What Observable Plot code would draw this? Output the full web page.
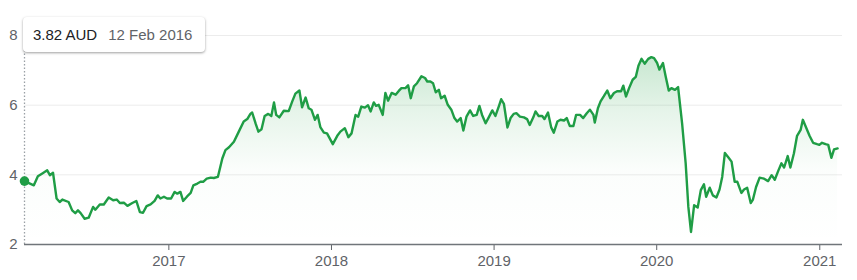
<!DOCTYPE html>
<html>
<head>
<meta charset="utf-8">
<script src="https://cdn.jsdelivr.net/npm/d3@7"></script>
<script src="https://cdn.jsdelivr.net/npm/@observablehq/plot@0.6"></script>
<style>
  html, body { margin: 0; padding: 0; background: #fff; }
  #wrap { position: relative; width: 857px; height: 280px; font-family: "Liberation Sans", Arial, sans-serif; }
  #tip {
    position: absolute; left: 23px; top: 17px; width: 182px; height: 35px;
    background: #fff; border-radius: 4px; box-sizing: border-box;
    box-shadow: 0 1px 3px rgba(0,0,0,0.28), 0 1px 2px rgba(0,0,0,0.12);
    display: flex; align-items: center; padding-left: 10px;
    font-size: 15px; white-space: nowrap;
  }
  #tip .v { color: #202124; }
  #tip .d { color: #5f6368; margin-left: 11px; }
</style>
</head>
<body>
<div id="wrap"><div id="tip"><span class="v"></span><span class="d"></span></div></div>
<script>
const currency = "AUD";
const dates = [
"2016-02-12","2016-03-04","2016-03-13","2016-03-23","2016-04-03","2016-04-09","2016-04-16","2016-04-24","2016-05-01","2016-05-07",
"2016-05-21","2016-05-29","2016-06-05","2016-06-11","2016-06-17","2016-06-26","2016-07-05","2016-07-15","2016-07-20","2016-07-30",
"2016-08-08","2016-08-19","2016-08-29","2016-09-06","2016-09-13","2016-09-22","2016-09-30","2016-10-11","2016-10-20","2016-10-28",
"2016-11-04","2016-11-12","2016-11-21","2016-11-30","2016-12-07","2016-12-13","2016-12-21","2016-12-28","2017-01-06","2017-01-14",
"2017-01-20","2017-01-27","2017-02-02","2017-02-11","2017-02-19","2017-02-25","2017-03-06","2017-03-13","2017-03-19","2017-03-27",
"2017-04-05","2017-04-12","2017-04-21","2017-05-01","2017-05-08","2017-05-16","2017-05-27","2017-06-07","2017-06-18","2017-06-26",
"2017-07-03","2017-07-07","2017-07-15","2017-07-21","2017-07-28","2017-08-04","2017-08-12","2017-08-19","2017-08-25","2017-08-30",
"2017-09-06","2017-09-16","2017-09-27","2017-10-05","2017-10-12","2017-10-21","2017-10-27","2017-11-04","2017-11-11","2017-11-17",
"2017-11-25","2017-12-01","2017-12-07","2017-12-15","2017-12-22","2018-01-04","2018-01-14","2018-01-21","2018-01-31","2018-02-08",
"2018-02-15","2018-02-24","2018-03-02","2018-03-09","2018-03-17","2018-03-24","2018-03-30","2018-04-06","2018-04-11","2018-04-17",
"2018-04-26","2018-05-02","2018-05-08","2018-05-16","2018-05-25","2018-06-01","2018-06-07","2018-06-16","2018-06-22","2018-06-28",
"2018-07-05","2018-07-12","2018-07-22","2018-07-30","2018-08-04","2018-08-11","2018-08-17","2018-08-23","2018-08-30","2018-09-04",
"2018-09-12","2018-09-19","2018-09-27","2018-10-04","2018-10-10","2018-10-18","2018-10-24","2018-10-31","2018-11-08","2018-11-15",
"2018-11-23","2018-11-29","2018-12-05","2018-12-13","2018-12-20","2018-12-28","2019-01-04","2019-01-12","2019-01-17","2019-01-23",
"2019-01-31","2019-02-07","2019-02-14","2019-02-20","2019-02-28","2019-03-09","2019-03-16","2019-03-22","2019-03-30","2019-04-04",
"2019-04-11","2019-04-19","2019-04-24","2019-05-02","2019-05-09","2019-05-15","2019-05-23","2019-05-30","2019-06-07","2019-06-13",
"2019-06-20","2019-06-28","2019-07-04","2019-07-13","2019-07-20","2019-07-28","2019-08-04","2019-08-12","2019-08-15","2019-08-22",
"2019-08-28","2019-09-04","2019-09-12","2019-09-19","2019-09-27","2019-10-04","2019-10-13","2019-10-18","2019-10-24","2019-10-31",
"2019-11-08","2019-11-15","2019-11-21","2019-11-28","2019-12-05","2019-12-13","2019-12-20","2019-12-26","2020-01-02","2020-01-07",
"2020-01-15","2020-01-21","2020-01-28","2020-02-03","2020-02-11","2020-02-18","2020-02-27","2020-03-06","2020-03-12","2020-03-18",
"2020-03-25","2020-04-02","2020-04-09","2020-04-16","2020-04-21","2020-04-29","2020-05-06","2020-05-14","2020-05-21","2020-05-27",
"2020-06-02","2020-06-10","2020-06-17","2020-06-24","2020-06-30","2020-07-09","2020-07-15","2020-07-22","2020-07-30","2020-08-04",
"2020-08-11","2020-08-19","2020-08-29","2020-09-07","2020-09-15","2020-09-22","2020-09-30","2020-10-07","2020-10-13","2020-10-21",
"2020-10-27","2020-11-04","2020-11-11","2020-11-19","2020-11-24","2020-12-02","2020-12-09","2020-12-17","2020-12-26","2020-12-31",
"2021-01-06","2021-01-14","2021-01-20","2021-01-27","2021-02-02","2021-02-10"
];
const prices = [
3.82,3.70,3.96,4.04,4.13,3.99,4.06,3.32,3.22,3.29,
3.22,2.98,2.90,2.98,2.90,2.74,2.77,3.08,3.00,3.15,
3.15,3.35,3.27,3.29,3.19,3.20,3.11,3.19,3.25,2.93,
2.91,3.10,3.15,3.25,3.41,3.32,3.37,3.32,3.32,3.51,
3.46,3.51,3.25,3.38,3.48,3.70,3.75,3.80,3.80,3.89,
3.92,3.91,3.94,4.47,4.71,4.79,4.95,5.24,5.53,5.60,
5.75,5.79,5.46,5.24,5.31,5.69,5.75,5.69,6.08,5.72,
5.65,5.84,5.83,6.11,6.33,6.42,5.94,6.22,5.91,5.87,
5.58,5.72,5.37,5.21,5.19,4.88,5.12,5.24,5.34,5.08,
5.19,5.72,5.67,5.96,5.93,6.00,5.82,6.08,5.98,6.01,
5.72,6.35,6.13,6.35,6.30,6.41,6.49,6.49,6.57,6.20,
6.54,6.63,6.83,6.78,6.68,6.68,6.63,6.37,6.44,6.20,
6.27,6.01,5.87,5.63,5.53,5.63,5.27,5.67,5.85,5.69,
5.72,5.98,5.72,5.48,5.65,5.85,5.69,5.98,6.17,6.04,
5.36,5.63,5.75,5.77,5.67,5.65,5.60,5.43,5.65,5.82,
5.69,5.69,5.60,5.79,5.37,5.21,5.53,5.58,5.56,5.63,
5.40,5.40,5.72,5.72,5.63,5.77,5.87,5.72,5.50,5.91,
6.11,6.25,6.42,6.20,6.35,6.40,6.40,6.56,6.25,6.49,
6.73,6.81,7.13,7.33,7.19,7.33,7.38,7.35,7.21,7.02,
7.21,6.83,6.42,6.49,6.44,6.52,5.48,4.33,3.08,2.36,
3.13,3.06,3.56,3.73,3.37,3.63,3.41,3.35,3.58,3.94,
4.63,4.50,4.38,3.80,3.80,3.48,3.58,3.63,3.19,3.29,
3.65,3.92,3.89,3.82,3.99,3.86,4.12,4.33,4.21,4.54,
4.21,4.62,5.12,5.29,5.58,5.34,5.12,4.92,4.88,4.86,
4.92,4.88,4.86,4.49,4.73,4.76
];
const yTicks = [2, 4, 6, 8];
const gridValues = [4, 6, 8];
const xTickDates = ["2017-01-01","2018-01-01","2019-01-01","2020-01-01","2021-01-01"];
const xDomain = ["2016-02-12", "2021-02-21"];
const yDomain = [2, 8];

const green = "#1f9d45";
const data = dates.map((d, i) => ({date: new Date(d + "T00:00:00Z"), price: prices[i]}));
const first = data[0];

const gradient = () => {
  const ns = "http://www.w3.org/2000/svg";
  const defs = document.createElementNS(ns, "defs");
  const lg = document.createElementNS(ns, "linearGradient");
  lg.setAttribute("id", "areaGrad");
  lg.setAttribute("x1", "0"); lg.setAttribute("y1", "0");
  lg.setAttribute("x2", "0"); lg.setAttribute("y2", "1");
  [[0, 0.27], [0.3, 0.12], [0.6, 0.02], [1, 0]].forEach(([o, a]) => {
    const s = document.createElementNS(ns, "stop");
    s.setAttribute("offset", o);
    s.setAttribute("stop-color", "#34a853");
    s.setAttribute("stop-opacity", a);
    lg.appendChild(s);
  });
  defs.appendChild(lg);
  return defs;
};

const chart = Plot.plot({
  width: 857,
  height: 280,
  marginLeft: 24,
  marginRight: 15,
  marginTop: 35,
  marginBottom: 36,
  style: {fontFamily: '"Liberation Sans", Arial, sans-serif', fontSize: "15px", color: "#5f6368", background: "transparent", overflow: "visible"},
  x: {type: "utc", domain: xDomain.map(d => new Date(d + "T00:00:00Z")), ticks: xTickDates.map(d => new Date(d + "T00:00:00Z")), tickFormat: d3.utcFormat("%Y"), tickSize: 6, tickPadding: 5, label: null},
  y: {domain: yDomain, ticks: yTicks, tickFormat: d3.format("d"), tickSize: 0, tickPadding: 7, label: null},
  marks: [
    gradient,
    Plot.ruleY(gridValues, {stroke: "#ececec", strokeWidth: 1}),
    Plot.areaY(data, {x: "date", y1: yDomain[0], y2: "price", fill: "url(#areaGrad)", curve: "linear"}),
    Plot.ruleX([first], {x: "date", y1: yDomain[0], y2: yDomain[1], stroke: "#9aa0a6", strokeWidth: 1.3, strokeDasharray: "1.5,2"}),
    Plot.lineY(data, {x: "date", y: "price", stroke: green, strokeWidth: 2.4, strokeLinejoin: "round"}),
    Plot.ruleY([yDomain[0]], {stroke: "#70757a", strokeWidth: 1.3}),
    Plot.dot([first], {x: "date", y: "price", r: 4.8, fill: green, stroke: "none"})
  ]
});

const wrap = document.getElementById("wrap");
wrap.insertBefore(chart, wrap.firstChild);
document.querySelector("#tip .v").textContent = first.price.toFixed(2) + " " + currency;
document.querySelector("#tip .d").textContent = d3.utcFormat("%-d %b %Y")(first.date);
</script>
</body>
</html>
